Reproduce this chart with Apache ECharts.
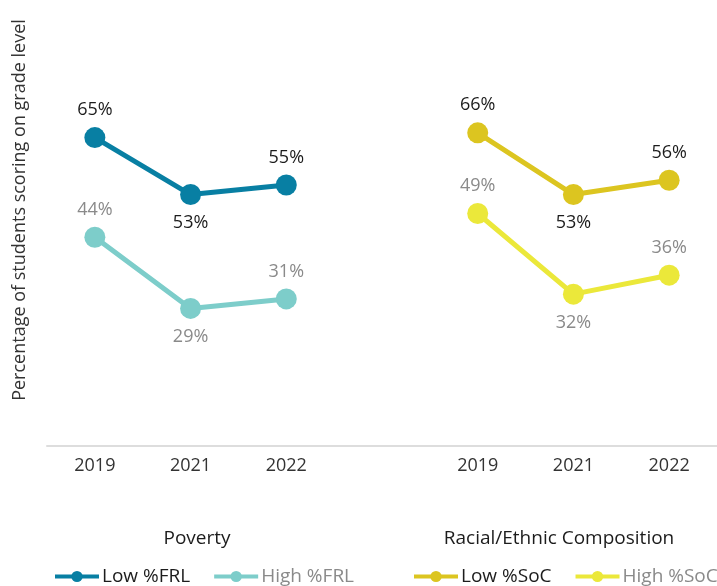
<!DOCTYPE html>
<html>
<head>
<meta charset="utf-8">
<title>Students scoring on grade level</title>
<script src="https://cdn.jsdelivr.net/npm/echarts@6/dist/echarts.min.js"></script>
<style>
  html, body { margin: 0; padding: 0; background: #fff; }
  #chart { width: 717px; height: 586px; }
</style>
</head>
<body>
<div id="chart"></div>
<script>
// School years shown in each panel
const years = ['2019', '2021', '2022'];

// Poverty panel (free / reduced lunch share)
const lowFRL = [65, 53, 55];
const highFRL = [44, 29, 31];

// Racial / ethnic composition panel (share of students of colour)
const lowSoC = [66, 53, 56];
const highSoC = [49, 32, 36];

const panelTitles = ['Poverty', 'Racial/Ethnic Composition'];
const yTitle = 'Percentage of students scoring on grade level';

// One shared category axis: left panel, an empty spacer slot, right panel
const categories = years.concat(['']).concat(years);
const gap = [null];
const blank = years.map(() => null);
const leftSeries = v => v.concat(gap, blank);
const rightSeries = v => blank.concat(gap, v);

const FONT = '"Open Sans", Roboto, sans-serif';
const DARK = '#1c1c1c';
const GREY = '#8a8a8a';

// 2021 labels sit under the dip; the others sit above their points
function labelFor(color) {
  return {
    show: true,
    formatter: p => p.value + '%',
    position: 'top',
    distance: 8,
    color: color,
    fontFamily: FONT,
    fontSize: 18,
    fontWeight: 500
  };
}

function makeSeries(name, values, color, labelColor) {
  const data = values.map((v, i) => {
    if (v == null) return null;
    const isDip = categories[i] === '2021';
    return {
      value: v,
      label: isDip ? { position: 'bottom', distance: 9 } : undefined
    };
  });
  return {
    name: name,
    type: 'line',
    data: data,
    symbol: 'circle',
    symbolSize: 21,
    lineStyle: { width: 5, color: color },
    itemStyle: { color: color },
    label: labelFor(labelColor),
    emphasis: { disabled: true },
    z: 3
  };
}

// Legend rows are allowed to run past the right edge rather than wrap
function legendBlock(left, names) {
  return {
    left: left, top: 562, width: 360,
    itemWidth: 44, itemHeight: 14, itemGap: 22,
    lineStyle: { width: 4 },
    textStyle: { fontFamily: FONT, fontSize: 19, padding: [0, 0, 0, -2] },
    data: [
      { name: names[0], textStyle: { color: DARK } },
      { name: names[1], textStyle: { color: GREY } }
    ],
    selectedMode: false
  };
}

const chart = echarts.init(document.getElementById('chart'), null, { renderer: 'canvas' });

chart.setOption({
  animation: false,
  backgroundColor: '#ffffff',
  grid: { left: 47, width: 672, top: 0, bottom: 140, containLabel: false },
  xAxis: {
    type: 'category',
    data: categories,
    boundaryGap: true,
    axisLine: { show: true, lineStyle: { color: '#dddddd', width: 2 } },
    axisTick: { show: false },
    axisLabel: { color: '#333333', fontFamily: FONT, fontSize: 18, margin: 11 }
  },
  yAxis: {
    type: 'value',
    min: 0,
    max: 94,
    axisLine: { show: false },
    axisTick: { show: false },
    axisLabel: { show: false },
    splitLine: { show: false }
  },
  legend: [
    legendBlock(48, ['Low %FRL', 'High %FRL']),
    legendBlock(407, ['Low %SoC', 'High %SoC'])
  ],
  graphic: [
    {
      type: 'text', x: 20, y: 210, rotation: Math.PI / 2,
      style: { text: yTitle, fill: '#333333', font: '18px ' + FONT, align: 'center', verticalAlign: 'middle' }
    },
    {
      type: 'text', x: 197, y: 539,
      style: { text: panelTitles[0], fill: DARK, font: '19px ' + FONT, align: 'center', verticalAlign: 'middle' }
    },
    {
      type: 'text', x: 559, y: 539,
      style: { text: panelTitles[1], fill: DARK, font: '19px ' + FONT, align: 'center', verticalAlign: 'middle' }
    }
  ],
  series: [
    makeSeries('High %FRL', leftSeries(highFRL), '#7dcdca', GREY),
    makeSeries('Low %FRL', leftSeries(lowFRL), '#087fa3', DARK),
    makeSeries('High %SoC', rightSeries(highSoC), '#ebe83a', GREY),
    makeSeries('Low %SoC', rightSeries(lowSoC), '#dcc520', DARK)
  ]
});
</script>
</body>
</html>
